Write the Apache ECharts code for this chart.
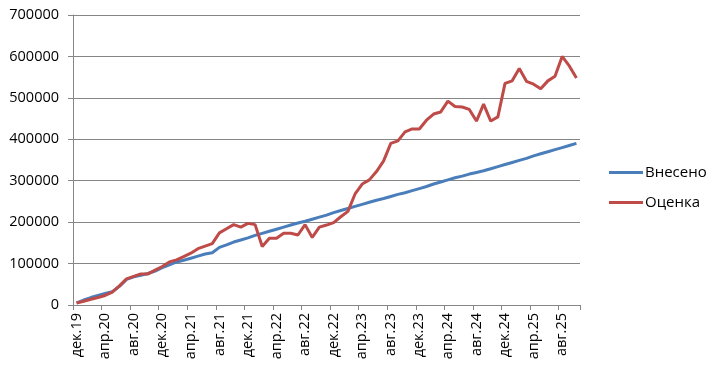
<!DOCTYPE html>
<html><head><meta charset="utf-8">
<script src="https://cdn.jsdelivr.net/npm/echarts@6/dist/echarts.min.js"></script>
<style>html,body{margin:0;padding:0;background:#fff}#c{width:712px;height:368px}</style>
</head><body><div id="c"></div>
<script>
const categories = [
 'дек.19','янв.20','фев.20','мар.20','апр.20','май.20','июн.20','июл.20','авг.20','сен.20','окт.20','ноя.20',
 'дек.20','янв.21','фев.21','мар.21','апр.21','май.21','июн.21','июл.21','авг.21','сен.21','окт.21','ноя.21',
 'дек.21','янв.22','фев.22','мар.22','апр.22','май.22','июн.22','июл.22','авг.22','сен.22','окт.22','ноя.22',
 'дек.22','янв.23','фев.23','мар.23','апр.23','май.23','июн.23','июл.23','авг.23','сен.23','окт.23','ноя.23',
 'дек.23','янв.24','фев.24','мар.24','апр.24','май.24','июн.24','июл.24','авг.24','сен.24','окт.24','ноя.24',
 'дек.24','янв.25','фев.25','мар.25','апр.25','май.25','июн.25','июл.25','авг.25','сен.25','окт.25'
];
const vneseno = [
 5000,12000,18000,23000,28000,32000,45000,62000,68000,72000,76000,82000,
 90000,97000,104000,108000,113000,118000,123000,126000,139000,145000,152000,157000,
 162000,168000,173000,178000,183000,188000,193000,198000,202000,207000,212000,217000,
 223000,228000,233000,238000,243000,248000,253000,257000,262000,267000,271000,276000,
 281000,286000,292000,297000,302000,307000,311000,316000,320000,324000,329000,334000,
 339000,344000,349000,354000,360000,365000,370000,375000,380000,385000,390000
];
const ocenka = [
 5000,9000,14000,18000,23000,31000,46000,63000,69000,75000,75000,84000,
 93000,104000,109000,117000,125000,136000,142000,148000,174000,184000,194000,188000,
 197000,194000,141000,161000,161000,173000,173000,169000,194000,163000,188000,193000,
 199000,213000,226000,268000,292000,302000,322000,348000,390000,396000,418000,425000,
 425000,446000,461000,466000,492000,479000,478000,472000,444000,485000,444000,454000,
 535000,541000,571000,540000,533000,522000,541000,552000,600000,577000,548000
];
const yMin = 0, yMax = 700000, yStep = 100000;
const seriesNames = ['Внесено','Оценка'];

const font = '"Open Sans", "Liberation Sans", sans-serif';
const chart = echarts.init(document.getElementById('c'), null, {renderer:'canvas'});
chart.setOption({
  animation:false,
  backgroundColor:'#fff',
  grid:{left:73,right:132,top:15,bottom:63,containLabel:false},
  legend:{
    orient:'vertical', left:604, top:160, itemWidth:34, itemHeight:3, itemGap:15,
    icon:'rect',
    textStyle:{fontFamily:font,fontSize:15,color:'#000',padding:[0,0,0,-3]},
    data:seriesNames
  },
  xAxis:{
    type:'category', data:categories, boundaryGap:true,
    axisLine:{lineStyle:{color:'#868686',width:1}},
    axisTick:{show:true,interval:3,length:5,alignWithLabel:false,lineStyle:{color:'#868686'}},
    axisLabel:{interval:3,rotate:90,margin:8,fontFamily:font,fontSize:14.5,color:'#000'},
    splitLine:{show:false}
  },
  yAxis:{
    type:'value', min:yMin, max:yMax, interval:yStep,
    axisLine:{show:true,lineStyle:{color:'#868686',width:1}},
    axisTick:{show:true,length:5,lineStyle:{color:'#868686'}},
    axisLabel:{margin:14,fontFamily:font,fontSize:14.5,color:'#000',formatter:function(v){return String(v);}},
    splitLine:{show:true,lineStyle:{color:'#868686',width:1}}
  },
  series:[
    {name:seriesNames[0],type:'line',data:vneseno,showSymbol:false,symbol:'none',
     lineStyle:{color:'#4a7ebb',width:3},itemStyle:{color:'#4a7ebb'},z:2},
    {name:seriesNames[1],type:'line',data:ocenka,showSymbol:false,symbol:'none',
     lineStyle:{color:'#be4b48',width:3},itemStyle:{color:'#be4b48'},z:3}
  ]
});
</script></body></html>
